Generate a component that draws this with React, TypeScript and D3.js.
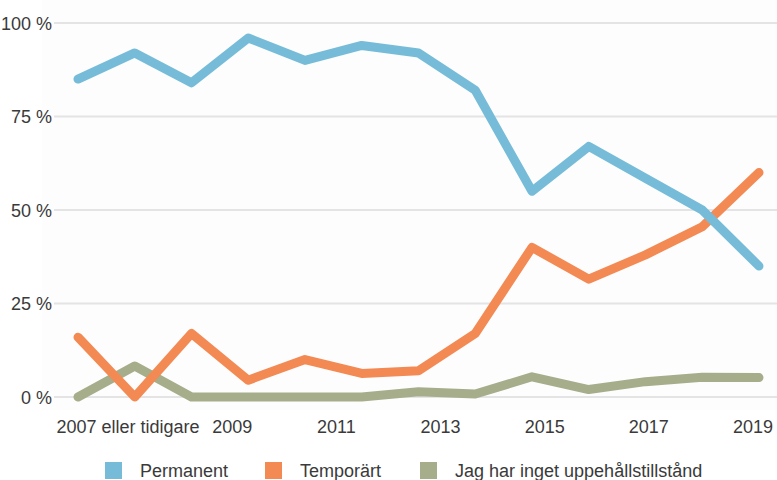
import React from "react";
import * as d3 from "d3";

const years = ["2007 eller tidigare", "2008", "2009", "2010", "2011", "2012", "2013", "2014", "2015", "2016", "2017", "2018", "2019"];
const tickLabels = ["2007 eller tidigare", "2009", "2011", "2013", "2015", "2017", "2019"];
const permanent = [85, 92, 84, 96, 90, 94, 92, 82, 55, 67, 58.5, 50, 35];
const temporart = [16, 0, 17, 4.5, 10, 6.3, 7, 17, 40, 31.5, 38, 45.5, 60];
const inget = [0, 8.3, 0, 0, 0, 0, 1.4, 0.8, 5.4, 2, 4.1, 5.3, 5.2];
const yTicks = [0, 25, 50, 75, 100];

const seriesNames = ["Permanent", "Temporärt", "Jag har inget uppehållstillstånd"];
const seriesColors = ["#76bcd8", "#f38953", "#a5ad8b"];

const W = 777;
const H = 480;
const FONT = "'Liberation Sans', Arial, sans-serif";

export default function App() {
  const x = d3.scalePoint<string>().domain(years).range([78, 759]);
  const xl = d3.scalePoint<string>().domain(tickLabels).range([128, 753]);
  const y = d3.scaleLinear().domain([0, 100]).range([397, 23]);
  const line = d3
    .line<number>()
    .x((_, i) => x(years[i]) as number)
    .y((d) => y(d));
  const series = [permanent, temporart, inget];
  const legendX = [105, 265, 420];

  return (
    <svg
      width={W}
      height={H}
      style={{ position: "absolute", left: 0, top: 0, background: "#ffffff" }}
      fontFamily={FONT}
    >
      <rect x={42} y={0} width={W - 42} height={410} fill="#fdfdfd" />
      {yTicks.map((t) => (
        <g key={t}>
          <line x1={54} x2={W} y1={y(t)} y2={y(t)} stroke="#e4e4e4" strokeWidth={2} />
          <text x={52} y={y(t)} dy="0.38em" textAnchor="end" fontSize={18} fill="#3a3a3a">
            {t} %
          </text>
        </g>
      ))}
      {tickLabels.map((l) => (
        <text key={l} x={xl(l)} y={433} textAnchor="middle" fontSize={18} fill="#3a3a3a">
          {l}
        </text>
      ))}
      {[2, 1, 0].map((si) => (
        <path
          key={si}
          d={line(series[si]) || ""}
          fill="none"
          stroke={seriesColors[si]}
          strokeWidth={9}
          strokeLinejoin="round"
          strokeLinecap="round"
        />
      ))}
      {seriesNames.map((n, i) => (
        <g key={n}>
          <rect x={legendX[i]} y={462} width={17} height={17} fill={seriesColors[i]} />
          <text x={legendX[i] + 35} y={477} fontSize={18} fill="#3a3a3a">
            {n}
          </text>
        </g>
      ))}
    </svg>
  );
}
